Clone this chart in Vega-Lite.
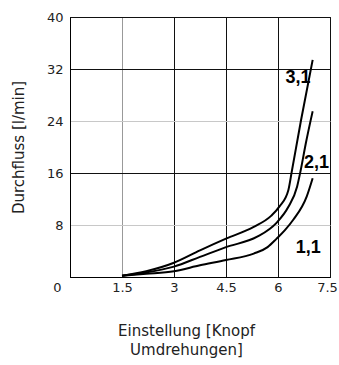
{
  "$schema": "https://vega.github.io/schema/vega-lite/v6.json",
  "width": 260,
  "height": 260,
  "autosize": {"type": "none"},
  "padding": {"left": 70, "top": 17, "right": 9, "bottom": 88},
  "background": "white",
  "config": {
    "view": {"stroke": "black", "strokeWidth": 1},
    "axis": {
      "labelFont": "DejaVu Sans",
      "labelFontSize": 13,
      "labelColor": "#222",
      "titleFont": "DejaVu Sans",
      "titleFontSize": 15,
      "titleFontWeight": "normal",
      "titleColor": "#222",
      "ticks": false,
      "domainColor": "black",
      "gridOpacity": 1,
      "gridWidth": 1
    }
  },
  "datasets": {
    "curves": [
      {"x": 1.5, "y": 0.2, "s": "3,1"},
      {"x": 2.2, "y": 0.9, "s": "3,1"},
      {"x": 3.0, "y": 2.2, "s": "3,1"},
      {"x": 3.75, "y": 4.1, "s": "3,1"},
      {"x": 4.5, "y": 5.9, "s": "3,1"},
      {"x": 5.3, "y": 7.7, "s": "3,1"},
      {"x": 5.8, "y": 9.4, "s": "3,1"},
      {"x": 6.05, "y": 10.9, "s": "3,1"},
      {"x": 6.3, "y": 13.4, "s": "3,1"},
      {"x": 6.4, "y": 16.3, "s": "3,1"},
      {"x": 6.66, "y": 24, "s": "3,1"},
      {"x": 7.0, "y": 33.4, "s": "3,1"},
      {"x": 1.5, "y": 0.2, "s": "2,1"},
      {"x": 2.2, "y": 0.7, "s": "2,1"},
      {"x": 3.0, "y": 1.6, "s": "2,1"},
      {"x": 3.75, "y": 3.1, "s": "2,1"},
      {"x": 4.5, "y": 4.6, "s": "2,1"},
      {"x": 5.4, "y": 6.2, "s": "2,1"},
      {"x": 5.95, "y": 8.3, "s": "2,1"},
      {"x": 6.3, "y": 10.8, "s": "2,1"},
      {"x": 6.55, "y": 13.9, "s": "2,1"},
      {"x": 6.65, "y": 16.3, "s": "2,1"},
      {"x": 6.8, "y": 20.5, "s": "2,1"},
      {"x": 7.0, "y": 25.5, "s": "2,1"},
      {"x": 1.5, "y": 0.2, "s": "1,1"},
      {"x": 2.2, "y": 0.5, "s": "1,1"},
      {"x": 3.0, "y": 0.9, "s": "1,1"},
      {"x": 3.75, "y": 1.8, "s": "1,1"},
      {"x": 4.5, "y": 2.6, "s": "1,1"},
      {"x": 5.3, "y": 3.6, "s": "1,1"},
      {"x": 5.7, "y": 4.6, "s": "1,1"},
      {"x": 5.96, "y": 5.9, "s": "1,1"},
      {"x": 6.2, "y": 7.2, "s": "1,1"},
      {"x": 6.44, "y": 8.8, "s": "1,1"},
      {"x": 6.83, "y": 12.4, "s": "1,1"},
      {"x": 7.0, "y": 15.2, "s": "1,1"}
    ],
    "labels": [
      {"x": 6.58, "y": 30.6, "t": "3,1"},
      {"x": 7.11, "y": 17.5, "t": "2,1"},
      {"x": 6.87, "y": 4.4, "t": "1,1"}
    ]
  },
  "encoding": {
    "x": {
      "field": "x", "type": "quantitative",
      "scale": {"domain": [0, 7.5], "nice": false, "zero": true},
      "axis": {
        "values": [0, 1.5, 3, 4.5, 6, 7.5],
        "labelExpr": "datum.value + ''",
        "labelOffset": {"condition": [{"test": "datum.value === 0", "value": -13}, {"test": "datum.value === 7.5", "value": -3}], "value": 0},
        "labelPadding": 4,
        "labelFlush": false,
        "title": ["Einstellung [Knopf", "Umdrehungen]"],
        "titleX": 116,
        "titleY": 46,
        "titleAlign": "center",
        "titleBaseline": "top",
        "titleLineHeight": 19,
        "gridColor": {"condition": {"test": "datum.value === 1.5", "value": "#999"}, "value": "#111"}
      }
    },
    "y": {
      "field": "y", "type": "quantitative",
      "scale": {"domain": [0, 40], "nice": false},
      "axis": {
        "values": [0, 8, 16, 24, 32, 40],
        "labelExpr": "datum.value === 0 ? '' : datum.label",
        "labelPadding": 7,
        "title": "Durchfluss [l/min]",
        "titlePadding": 20,
        "gridColor": {"condition": {"test": "datum.value === 8 || datum.value === 24", "value": "#c8c8c8"}, "value": "#111"}
      }
    }
  },
  "layer": [
    {
      "data": {"name": "curves"},
      "mark": {"type": "line", "color": "black", "strokeWidth": 2, "interpolate": "monotone"},
      "encoding": {
        "detail": {"field": "s"}
      }
    },
    {
      "data": {"name": "labels"},
      "mark": {"type": "text", "font": "Liberation Sans", "fontWeight": "bold", "fontSize": 18, "color": "black", "align": "center", "baseline": "middle"},
      "encoding": {
        "text": {"field": "t"}
      }
    }
  ]
}
